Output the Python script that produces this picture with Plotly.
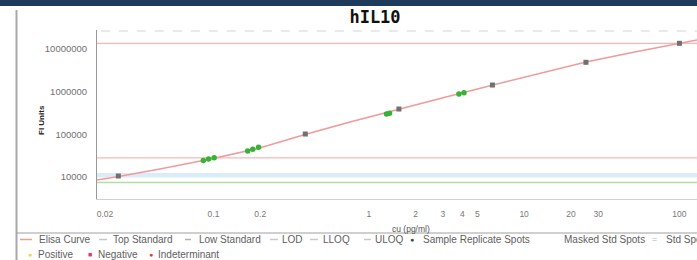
import plotly.graph_objects as go

# ---------------- data ----------------
curve_x = [0.0178, 0.0250, 0.0452, 0.0978, 0.1934, 0.3883, 0.7568, 1.565,
           3.142, 6.306, 12.66, 25.04, 49.53, 99.4, 129.8]
curve_y = [8510, 10380, 15380, 26770, 46360, 98400, 192800, 388000,
           739000, 1413000, 2692000, 4864000, 8110000, 13300000, 15890000]

std_x = [0.0244, 0.39, 1.5625, 6.25, 25, 100]
std_y = [10550, 101000, 388000, 1410000, 4790000, 13300000]

sample_x = [0.086, 0.093, 0.101, 0.166, 0.179, 0.195, 1.30, 1.36, 3.80, 4.10]
sample_y = [24300, 26200, 28300, 40700, 44700, 49600, 296000, 310000, 869000, 930000]

top_standard = 13300000
low_standard = 28000
uloq = 25800000
lloq_band = [9800, 12400]
lod = 7440

x_tick_vals = [0.02, 0.1, 0.2, 1, 2, 3, 4, 5, 10, 20, 30, 100]
x_tick_text = ["0.02", "0.1", "0.2", "1", "2", "3", "4", "5", "10", "20", "30", "100"]
y_tick_vals = [10000, 100000, 1000000, 10000000]
y_tick_text = ["10000", "100000", "1000000", "10000000"]

legend_row1 = ["Elisa Curve", "Top Standard", "Low Standard", "LOD", "LLOQ", "ULOQ",
               "Sample Replicate Spots", "Masked Std Spots", "Std Spots"]
legend_row2 = ["Positive", "Negative", "Indeterminant"]

# ---------------- layout geometry ----------------
W, H = 697, 260
L, R, T, B = 97, 0, 30, 61
PW = W - L - R
PH = H - T - B


def px(xp):
    return (xp - L) / PW


def py(yp):
    return (H - B - yp) / PH


XL = [0.001, 1000]

fig = go.Figure()

# LLOQ band (light blue)
fig.add_trace(go.Scatter(x=[XL[0], XL[1], XL[1], XL[0], XL[0]],
                         y=[lloq_band[0], lloq_band[0], lloq_band[1], lloq_band[1], lloq_band[0]],
                         fill="toself", fillcolor="#dcebf8", line=dict(width=0),
                         mode="lines", hoverinfo="skip", showlegend=False))
# LOD line (green)
fig.add_trace(go.Scatter(x=XL, y=[lod, lod], mode="lines",
                         line=dict(color="#b3dea3", width=1.5), showlegend=False))
# low standard
fig.add_trace(go.Scatter(x=XL, y=[low_standard, low_standard], mode="lines",
                         line=dict(color="#f3b9b9", width=1.2), showlegend=False))
# top standard
fig.add_trace(go.Scatter(x=XL, y=[top_standard, top_standard], mode="lines",
                         line=dict(color="#f3b9b9", width=1.2), showlegend=False))
# ULOQ
fig.add_trace(go.Scatter(x=XL, y=[uloq, uloq], mode="lines",
                         line=dict(color="#d4d4d4", width=1, dash="dash"), showlegend=False))
# curve
fig.add_trace(go.Scatter(x=curve_x, y=curve_y, mode="lines",
                         line=dict(color="#f09a9a", width=1.6), showlegend=False))
# standards
fig.add_trace(go.Scatter(x=std_x, y=std_y, mode="markers",
                         marker=dict(symbol="square", size=5, color="#707070"),
                         showlegend=False))
# samples
fig.add_trace(go.Scatter(x=sample_x, y=sample_y, mode="markers",
                         marker=dict(symbol="circle", size=5.5, color="#36b336"),
                         showlegend=False))

shapes = []
# navy band at top
shapes.append(dict(type="rect", xref="paper", yref="paper", x0=px(0), x1=px(W),
                   y0=py(6), y1=py(0), fillcolor="#1f3b5b", line=dict(width=0), layer="above"))
# outer frame left line
shapes.append(dict(type="line", xref="paper", yref="paper", x0=px(16.5), x1=px(16.5),
                   y0=py(H), y1=py(10), line=dict(color="#a8a8a8", width=2)))
# legend top border
shapes.append(dict(type="line", xref="paper", yref="paper", x0=px(16.5), x1=px(W),
                   y0=py(233), y1=py(233), line=dict(color="#a0a0a0", width=1)))

annotations = []
# axis titles
annotations.append(dict(text="cu (pg/ml)", xref="paper", yref="paper", x=px(411), y=py(229),
                        showarrow=False, borderpad=0, yanchor="middle",
                        font=dict(size=8.5, color="#555555", family="Liberation Sans, Arial")))
annotations.append(dict(text="<b>FI Units</b>", xref="paper", yref="paper", x=px(34.5), y=py(120),
                        textangle=-90, showarrow=False,
                        font=dict(size=8, color="#222222", family="Liberation Sans, Arial")))

LEG_FONT = dict(size=10, color="#606060", family="Liberation Sans, Arial")
ROW1 = 239.5
ROW2 = 254.5
# row 1 : (swatch kind, swatch x0, swatch x1, color, text x)
row1_specs = [
    ("line", 20, 32, "#f09a9a", 38),
    ("line", 99, 107, "#c8c8c8", 112),
    ("line", 185, 191, "#b0b0b0", 198),
    ("line", 270, 278, "#c8c8c8", 281),
    ("line", 310, 318, "#c8c8c8", 322),
    ("line", 364, 371, "#c8c8c8", 374),
    ("dot", 412, 412, "#444444", 422),
    ("none", 0, 0, "#ffffff", 563),
    ("eq", 658, 658, "#b0b0b0", 665),
]
for name, (kind, s0, s1, col, tx) in zip(legend_row1, row1_specs):
    if kind == "line":
        shapes.append(dict(type="line", xref="paper", yref="paper", x0=px(s0), x1=px(s1),
                           y0=py(ROW1), y1=py(ROW1), line=dict(color=col, width=1.5)))
    elif kind == "dot":
        annotations.append(dict(text="●", xref="paper", yref="paper", x=px(s0), y=py(ROW1),
                                showarrow=False, borderpad=0, yanchor="middle",
                                font=dict(size=7, color=col)))
    elif kind == "eq":
        annotations.append(dict(text="=", xref="paper", yref="paper", x=px(s0), y=py(ROW1),
                                showarrow=False, borderpad=0, yanchor="middle",
                                font=dict(size=9, color=col)))
    annotations.append(dict(text=name, xref="paper", yref="paper", x=px(tx), y=py(ROW1),
                            xanchor="left", yanchor="middle", borderpad=0,
                            showarrow=False, font=LEG_FONT))

row2_specs = [("●", "#f2d43c", 27, 37), ("■", "#e8336e", 87, 97), ("●", "#e23b3b", 148, 157)]
for name, (sym, col, sx, tx) in zip(legend_row2, row2_specs):
    annotations.append(dict(text=sym, xref="paper", yref="paper", x=px(sx), y=py(ROW2),
                            showarrow=False, borderpad=0, yanchor="middle",
                            font=dict(size=7, color=col)))
    annotations.append(dict(text=name, xref="paper", yref="paper", x=px(tx), y=py(ROW2),
                            xanchor="left", yanchor="middle", borderpad=0,
                            showarrow=False, font=LEG_FONT))

fig.update_layout(
    width=W, height=H,
    margin=dict(l=L, r=R, t=T, b=B, pad=0),
    paper_bgcolor="white", plot_bgcolor="white",
    showlegend=False,
    title=dict(text="<b>hIL10</b>", x=375 / W, xref="container", xanchor="center",
               y=1 - 17.5 / H, yref="container", yanchor="middle",
               font=dict(family="DejaVu Sans Mono", size=17, color="#111111")),
    xaxis=dict(type="log", range=[-1.750, 2.113], tickvals=x_tick_vals, ticktext=x_tick_text,
               showgrid=False, zeroline=False, showline=True, linecolor="#d0d0d0", linewidth=1,
               ticks="", ticklabelstandoff=7,
               tickfont=dict(size=8.5, color="#777777", family="Liberation Sans, Arial")),
    yaxis=dict(type="log", range=[3.486, 7.435], tickvals=y_tick_vals, ticktext=y_tick_text,
               showgrid=False, zeroline=False, showline=True, linecolor="#999999", linewidth=1,
               ticks="", ticklabelstandoff=7,
               tickfont=dict(size=9.5, color="#707070", family="Liberation Sans, Arial")),
    shapes=shapes,
    annotations=annotations,
)

fig.write_html("out.html", config={"displayModeBar": False},
               post_script="document.body.style.margin='0';document.body.style.overflow='hidden';")
